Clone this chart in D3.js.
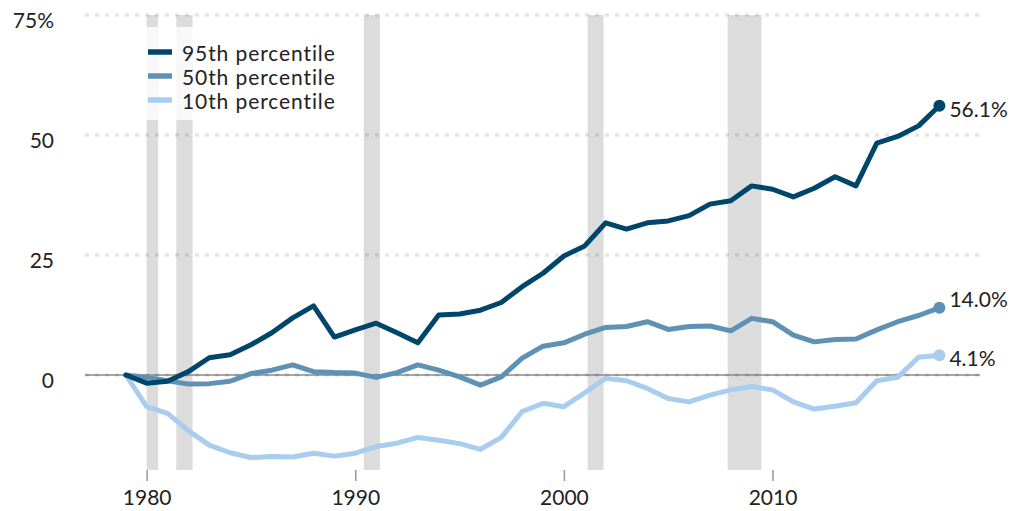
<!DOCTYPE html>
<html>
<head>
<meta charset="utf-8">
<script src="https://cdn.jsdelivr.net/npm/d3@7"></script>
<style>
  html, body { margin: 0; padding: 0; background: #fff; }
  svg { display: block; font-family: Lato, "Open Sans", sans-serif; }
</style>
</head>
<body>
<svg id="chart" width="1012" height="511"></svg>
<script>
const years = d3.range(1979, 2019);
const p95 = [0, -1.7, -1.3, 0.7, 3.6, 4.2, 6.3, 8.8, 11.9, 14.4, 7.9, 9.4, 10.8, 8.8, 6.7, 12.5, 12.7, 13.5, 15.1,
  18.4, 21.2, 24.8, 26.9, 31.7, 30.4, 31.7, 32.1, 33.2, 35.6, 36.3, 39.4, 38.7, 37.1, 38.9, 41.3, 39.4, 48.3, 49.7, 51.9, 56.1];
const p50 = [0, -0.5, -1.2, -1.9, -1.8, -1.3, 0.3, 1.0, 2.1, 0.7, 0.5, 0.4, -0.5, 0.5, 2.1, 1.0, -0.4, -2.1, -0.4,
  3.5, 6.0, 6.7, 8.5, 9.9, 10.1, 11.1, 9.5, 10.1, 10.2, 9.2, 11.8, 11.1, 8.3, 6.9, 7.4, 7.5, 9.4, 11.1, 12.4, 14.0];
const p10 = [0, -6.6, -8.0, -11.6, -14.6, -16.2, -17.2, -17.0, -17.1, -16.3, -16.9, -16.3, -14.9, -14.2, -13.0, -13.6, -14.3, -15.5, -13.0,
  -7.6, -5.9, -6.6, -3.7, -0.7, -1.2, -2.8, -4.9, -5.6, -4.2, -3.1, -2.4, -3.1, -5.6, -7.1, -6.5, -5.8, -1.2, -0.5, 3.7, 4.1];
const seriesNames = ["95th percentile", "50th percentile", "10th percentile"];
const endLabels = ["56.1%", "14.0%", "4.1%"];
const recessions = [[1980.0, 1980.55], [1981.42, 1982.2], [1990.41, 1991.18], [2001.14, 2001.9], [2007.85, 2009.47]];
const yTicks = [0, 25, 50, 75];
const yTickLabels = ["0", "25", "50", "75%"];
const xTicks = [1980, 1990, 2000, 2010];

const colors = ["#00466b", "#5f91b5", "#a8cdef"];
const labelDy = [11.5, -1, 11];

const svg = d3.select("#chart");
const x = d3.scaleLinear().domain([1979, 2018]).range([125.8, 939.4]);
const y = d3.scaleLinear().domain([-20, 75]).range([471, 15]);
const plotBottom = 470, plotTop = 15;

// recession bands
svg.append("g").selectAll("rect").data(recessions).join("rect")
  .attr("x", d => x(d[0])).attr("width", d => x(d[1]) - x(d[0]))
  .attr("y", plotTop).attr("height", plotBottom - plotTop)
  .attr("fill", "#dcdcdc");

// zero line
svg.append("line").attr("x1", 85).attr("x2", 980).attr("y1", y(0)).attr("y2", y(0))
  .attr("stroke", "#8a8a8a").attr("stroke-width", 1.5);

// gridlines
svg.append("g").selectAll("line").data(yTicks).join("line")
  .attr("x1", 85).attr("x2", 980).attr("y1", d => y(d)).attr("y2", d => y(d))
  .attr("stroke", "#000").attr("stroke-opacity", 0.1)
  .attr("stroke-width", 3.5).attr("stroke-dasharray", "4,6");

// legend background
svg.append("rect").attr("x", 140).attr("y", 27).attr("width", 210).attr("height", 93)
  .attr("fill", "#fff").attr("fill-opacity", 0.8);

// y tick labels
svg.append("g").selectAll("text").data(yTicks).join("text")
  .attr("x", 54).attr("y", d => y(d) + 13)
  .attr("text-anchor", "end").attr("font-size", 21).attr("fill", "#222")
  .text((d, i) => yTickLabels[i]);

// x axis
const xAxis = d3.axisBottom(x).tickValues(xTicks).tickFormat(d3.format("d")).tickSize(11).tickPadding(8);
const gx = svg.append("g").attr("transform", `translate(0,${plotBottom})`).call(xAxis);
gx.select(".domain").remove();
gx.selectAll(".tick line").attr("stroke", "#999").attr("stroke-width", 1.5);
gx.selectAll(".tick text").attr("font-size", 21).attr("fill", "#222").attr("font-family", "Lato, sans-serif").attr("dy", "0.78em");

// lines
const allSeries = [p95, p50, p10];
const line = d3.line().x((d, i) => x(years[i])).y(d => y(d));
const drawOrder = [2, 1, 0];
drawOrder.forEach(k => {
  svg.append("path").datum(allSeries[k]).attr("d", line)
    .attr("fill", "none").attr("stroke", colors[k]).attr("stroke-width", 5)
    .attr("stroke-linejoin", "round").attr("stroke-linecap", "round");
});

// end dots and labels
allSeries.forEach((s, k) => {
  const last = s[s.length - 1];
  svg.append("circle").attr("cx", x(years[years.length - 1])).attr("cy", y(last)).attr("r", 6).attr("fill", colors[k]);
  svg.append("text").attr("x", x(years[years.length - 1]) + 10).attr("y", y(last) + labelDy[k])
    .attr("font-size", 21).attr("fill", "#222").text(endLabels[k]);
});

// legend
const lg = svg.append("g").selectAll("g").data(seriesNames).join("g")
  .attr("transform", (d, i) => `translate(148,${52 + i * 24})`);
lg.append("line").attr("x1", 0).attr("x2", 24).attr("stroke", (d, i) => colors[i]).attr("stroke-width", 5.5);
lg.append("text").attr("x", 34).attr("y", 8.5).attr("font-size", 21).attr("letter-spacing", "0.9px")
  .attr("fill", "#222").text(d => d);
</script>
</body>
</html>
